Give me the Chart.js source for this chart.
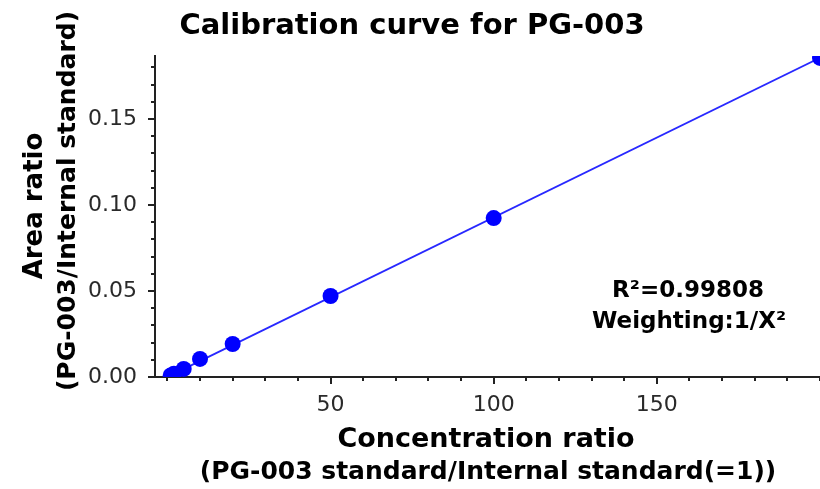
<!DOCTYPE html>
<html><head><meta charset="utf-8">
<script src="https://cdn.jsdelivr.net/npm/chart.js@4.4.1/dist/chart.umd.min.js"></script>
<style>html,body{margin:0;padding:0;background:#fff;} #wrap{width:820px;height:489px;}</style>
</head><body><div id="wrap"><canvas id="c" width="820" height="489"></canvas></div>
<script>
// ---- data ----
const concentration = [1, 2, 5, 10, 20, 50, 100, 200];
const areaRatio = [0.0009, 0.0019, 0.0047, 0.0105, 0.0192, 0.0471, 0.0924, 0.1855];
const fitX = [1, 200];
const fitY = [0.00093, 0.1856];
const xTickValues = [0,10,20,30,40,50,60,70,80,90,100,110,120,130,140,150,160,170,180,190,200];
const xLabelValues = [50, 100, 150];
const yTickValues = [0,0.01,0.02,0.03,0.04,0.05,0.06,0.07,0.08,0.09,0.10,0.11,0.12,0.13,0.14,0.15,0.16,0.17,0.18];
const yLabelValues = [0, 0.05, 0.10, 0.15];
const titleText = 'Calibration curve for PG-003';
const yTitle = ['Area ratio', '(PG-003/Internal standard)'];
const xTitle = ['Concentration ratio', '(PG-003 standard/Internal standard(=1))'];
const noteLines = ['R\u00B2=0.99808', 'Weighting:1/X\u00B2'];

const isIn = (v, arr) => arr.some(a => Math.abs(a - v) < 1e-9);

const tickPlugin = {
  id: 'ticksDraw',
  afterDraw(chart) {
    const ctx = chart.ctx;
    const xs = chart.scales.x, ys = chart.scales.y;
    const a = chart.chartArea;
    ctx.save();
    ctx.strokeStyle = '#222';
    ctx.lineWidth = 2;
    ctx.beginPath();
    xTickValues.forEach(v => {
      const px = Math.round(xs.getPixelForValue(v));
      const len = isIn(v, xLabelValues) ? 7 : 4;
      ctx.moveTo(px, a.bottom);
      ctx.lineTo(px, a.bottom + len);
    });
    yTickValues.forEach(v => {
      const py = Math.round(ys.getPixelForValue(v));
      const len = isIn(v, yLabelValues) ? 7 : 4;
      ctx.moveTo(a.left, py);
      ctx.lineTo(a.left - len, py);
    });
    ctx.stroke();
    ctx.restore();
  }
};

const textPlugin = {
  id: 'texts',
  afterDraw(chart) {
    const ctx = chart.ctx;
    ctx.save();
    ctx.fillStyle = '#000';
    ctx.textAlign = 'center';
    ctx.textBaseline = 'middle';
    ctx.font = 'bold 29px "DejaVu Sans"';
    ctx.fillText(titleText, 412, 26);
    ctx.font = 'bold 27px "DejaVu Sans"';
    ctx.fillText(xTitle[0], 486, 440);
    ctx.font = 'bold 25px "DejaVu Sans"';
    ctx.fillText(xTitle[1], 488, 472);
    ctx.font = 'bold 23px "DejaVu Sans"';
    ctx.fillText(noteLines[0], 688, 291);
    ctx.fillText(noteLines[1], 689, 322);
    ctx.save();
    ctx.translate(35, 206);
    ctx.rotate(-Math.PI / 2);
    ctx.font = 'bold 26px "DejaVu Sans"';
    ctx.fillText(yTitle[0], 0, 0);
    ctx.restore();
    ctx.save();
    ctx.translate(68, 201);
    ctx.rotate(-Math.PI / 2);
    ctx.font = 'bold 25px "DejaVu Sans"';
    ctx.fillText(yTitle[1], 0, 0);
    ctx.restore();
    ctx.restore();
  }
};

new Chart(document.getElementById('c'), {
  type: 'scatter',
  data: {
    datasets: [
      {
        label: 'Standards',
        data: concentration.map((x, i) => ({ x: x, y: areaRatio[i] })),
        backgroundColor: '#0000ff',
        borderColor: '#0000ff',
        pointRadius: 8,
        pointBorderWidth: 0,
        showLine: false
      },
      {
        label: 'Fit',
        data: fitX.map((x, i) => ({ x: x, y: fitY[i] })),
        borderColor: '#2828ff',
        borderWidth: 1.8,
        pointRadius: 0,
        showLine: true,
        fill: false
      }
    ]
  },
  options: {
    responsive: false,
    animation: false,
    devicePixelRatio: 1,
    layout: { autoPadding: false, padding: { top: 56, right: 0, left: 0, bottom: 0 } },
    plugins: { legend: { display: false }, title: { display: false }, tooltip: { enabled: false } },
    scales: {
      x: {
        type: 'linear',
        min: -3.8,
        max: 200,
        afterBuildTicks: s => { s.ticks = xTickValues.map(v => ({ value: v })); },
        afterFit: s => { s.height = 112; s.paddingLeft = 0; s.paddingRight = 0; },
        ticks: {
          autoSkip: false,
          maxRotation: 0,
          padding: 8,
          color: '#2a2a2a',
          font: { family: '"DejaVu Sans"', size: 22 },
          callback: v => isIn(v, xLabelValues) ? String(v) : ''
        },
        grid: { display: true, drawOnChartArea: false, drawTicks: true, tickLength: 7, tickColor: 'rgba(0,0,0,0)' },
        border: { display: true, color: '#222', width: 2 }
      },
      y: {
        type: 'linear',
        min: 0,
        max: 0.1866,
        afterBuildTicks: s => { s.ticks = yTickValues.map(v => ({ value: v })); },
        afterFit: s => { s.width = 155; s.paddingTop = 0; s.paddingBottom = 0; },
        ticks: {
          autoSkip: false,
          padding: 11,
          color: '#2a2a2a',
          font: { family: '"DejaVu Sans"', size: 22 },
          callback: v => isIn(v, yLabelValues) ? v.toFixed(2) : ''
        },
        grid: { display: true, drawOnChartArea: false, drawTicks: true, tickLength: 7, tickColor: 'rgba(0,0,0,0)' },
        border: { display: true, color: '#222', width: 2 }
      }
    }
  },
  plugins: [tickPlugin, textPlugin]
});
</script>
</body></html>
